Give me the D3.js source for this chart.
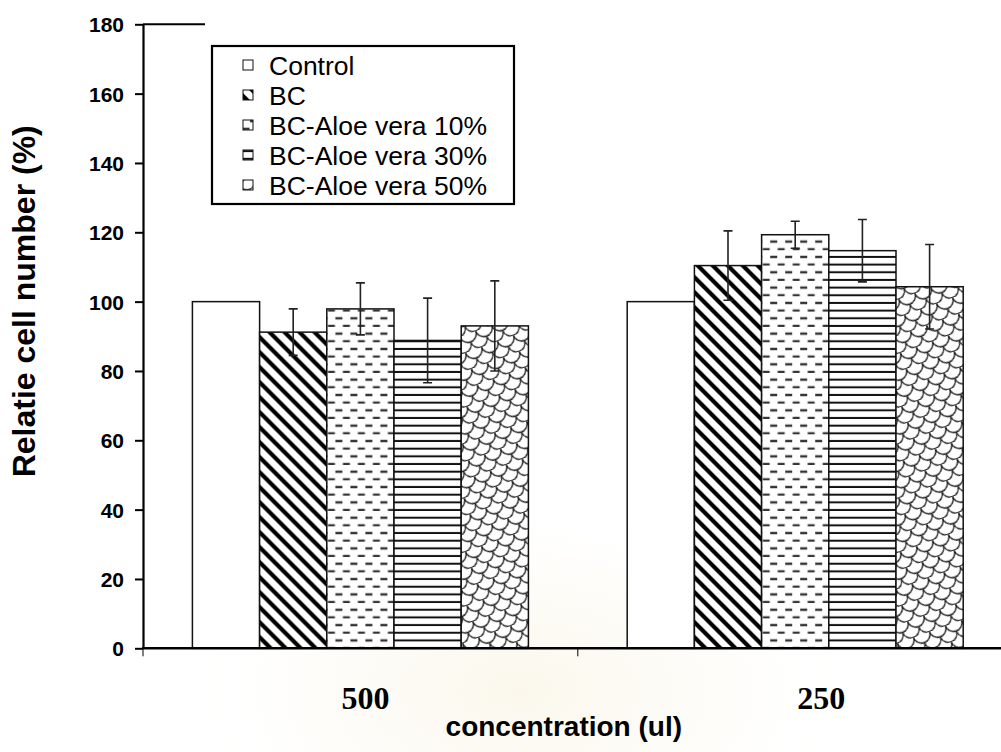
<!DOCTYPE html>
<html>
<head>
<meta charset="utf-8">
<script src="https://cdn.jsdelivr.net/npm/d3@7"></script>
<style>
  html, body { margin: 0; padding: 0; background: #fff; }
  svg { display: block; }
</style>
</head>
<body>
<svg id="chart" width="1001" height="752"></svg>
<script>
// Relative cell number by extract concentration
const categories = ["500", "250"];
const series = ["Control", "BC", "BC-Aloe vera 10%", "BC-Aloe vera 30%", "BC-Aloe vera 50%"];
const values500 = [100, 91.2, 97.9, 88.8, 93.0];
const values250 = [100, 110.4, 119.3, 114.7, 104.3];
const errors500 = [0, 6.7, 7.5, 12.2, 13.0];
const errors250 = [0, 10.0, 3.9, 9.0, 12.2];
const yTicks = [0, 20, 40, 60, 80, 100, 120, 140, 160, 180];
const patternIds = ["pat-none", "pat-diag", "pat-dash", "pat-hline", "pat-scale"];

const valuesByCat = { "500": values500, "250": values250 };
const errorsByCat = { "500": errors500, "250": errors250 };

const svg = d3.select("#chart");
const W = 1001, H = 752;
const plot = { left: 143, top: 24.3, bottom: 648.3 };
const bandStep = 434.8;
const groupWidth = 336;

// ---------- fill patterns ----------
const defs = svg.append("defs");

function pattern(id, w, h) {
  const p = defs.append("pattern")
    .attr("id", id)
    .attr("patternUnits", "userSpaceOnUse")
    .attr("width", w).attr("height", h);
  p.append("rect").attr("width", w).attr("height", h).attr("fill", "#fff");
  return p;
}

pattern("pat-none", 10, 10);

const diag = pattern("pat-diag", 15, 15);
diag.append("path")
  .attr("d", "M-2,-2 L17,17 M-9.5,5.5 L1.5,16.5 M5.5,-9.5 L16.5,1.5")
  .attr("stroke", "#000").attr("stroke-width", 4.2).attr("fill", "none");

const dash = pattern("pat-dash", 15, 15.34);
dash.append("path")
  .attr("d", "M0.5,3.8 H7.5 M8,11.5 H15")
  .attr("stroke", "#333").attr("stroke-width", 2.2).attr("fill", "none");

const hline = pattern("pat-hline", 10, 7.67);
hline.append("path")
  .attr("d", "M0,3.8 H10")
  .attr("stroke", "#111").attr("stroke-width", 2).attr("fill", "none");

// overlapping scales, tilted
const scale = pattern("pat-scale", 17, 17).attr("patternTransform", "rotate(-20)");
scale.append("path")
  .attr("d", "M0,0 A8.5,8.5 0 0 0 17,0 M-8.5,8.5 A8.5,8.5 0 0 0 8.5,8.5 M8.5,8.5 A8.5,8.5 0 0 0 25.5,8.5 M0,17 A8.5,8.5 0 0 0 17,17")
  .attr("stroke", "#222").attr("stroke-width", 1.3).attr("fill", "none");

// faint seal printed behind the lower part of the page
const glow = defs.append("radialGradient").attr("id", "seal-glow");
glow.append("stop").attr("offset", "0%").attr("stop-color", "#f3e7c4").attr("stop-opacity", 0.32);
glow.append("stop").attr("offset", "60%").attr("stop-color", "#f6eed6").attr("stop-opacity", 0.16);
glow.append("stop").attr("offset", "100%").attr("stop-color", "#ffffff").attr("stop-opacity", 0);
svg.append("ellipse")
  .attr("cx", 520).attr("cy", 690)
  .attr("rx", 330).attr("ry", 190)
  .attr("fill", "url(#seal-glow)");

// ---------- scales ----------
const y = d3.scaleLinear().domain([0, 180]).range([plot.bottom, plot.top]);
const x0 = d3.scaleBand().domain(categories)
  .range([plot.left, plot.left + bandStep * categories.length])
  .paddingInner(0).paddingOuter(0);
const x1 = d3.scaleBand().domain(series).range([0, groupWidth]).padding(0);
const groupOffset = (x0.bandwidth() - groupWidth) / 2;

// ---------- bars ----------
const groups = svg.append("g").selectAll("g")
  .data(categories)
  .join("g")
  .attr("transform", c => `translate(${x0(c) + groupOffset},0)`);

groups.selectAll("rect")
  .data(c => series.map((s, i) => ({ s, i, v: valuesByCat[c][i], e: errorsByCat[c][i] })))
  .join("rect")
  .attr("x", d => x1(d.s))
  .attr("y", d => y(d.v))
  .attr("width", x1.bandwidth())
  .attr("height", d => y(0) - y(d.v))
  .attr("fill", d => `url(#${patternIds[d.i]})`)
  .attr("stroke", "#111")
  .attr("stroke-width", 1.5);

// ---------- error bars ----------
const capHalf = 4.5;
groups.selectAll("path.err")
  .data(c => series.map((s, i) => ({ s, v: valuesByCat[c][i], e: errorsByCat[c][i] })).filter(d => d.e > 0))
  .join("path")
  .attr("class", "err")
  .attr("d", d => {
    const cx = x1(d.s) + x1.bandwidth() / 2;
    const t = y(d.v + d.e), b = y(d.v - d.e);
    return `M${cx},${t} V${b} M${cx - capHalf},${t} H${cx + capHalf} M${cx - capHalf},${b} H${cx + capHalf}`;
  })
  .attr("stroke", "#222").attr("stroke-width", 1.6).attr("fill", "none");

// ---------- y axis ----------
const yAxis = svg.append("g")
  .attr("transform", `translate(${plot.left},0)`)
  .call(d3.axisLeft(y).tickValues(yTicks).tickSize(8).tickSizeOuter(0).tickPadding(11));
yAxis.select(".domain").attr("stroke", "#000").attr("stroke-width", 2.2);
yAxis.selectAll(".tick line").attr("stroke", "#000").attr("stroke-width", 2);
yAxis.selectAll(".tick text")
  .attr("font-family", "Liberation Sans, Arial, sans-serif")
  .attr("font-weight", "bold")
  .attr("font-size", 21)
  .attr("fill", "#000")
  .attr("dy", "0.36em");

// short cap line at the top of the value axis
svg.append("line")
  .attr("x1", plot.left).attr("x2", plot.left + 62)
  .attr("y1", y(180)).attr("y2", y(180))
  .attr("stroke", "#000").attr("stroke-width", 2);

// ---------- x axis ----------
svg.append("line")
  .attr("x1", plot.left - 1).attr("x2", W)
  .attr("y1", y(0)).attr("y2", y(0))
  .attr("stroke", "#000").attr("stroke-width", 2.4);

const boundaries = categories.map(c => x0(c)).concat([x0(categories[categories.length - 1]) + x0.bandwidth()]);
svg.append("g").selectAll("line")
  .data(boundaries)
  .join("line")
  .attr("x1", d => d).attr("x2", d => d)
  .attr("y1", y(0)).attr("y2", y(0) + 8)
  .attr("stroke", "#000").attr("stroke-width", 1);

const labelShift = [5, 26];
svg.append("g").selectAll("text")
  .data(categories)
  .join("text")
  .attr("x", (c, i) => x0(c) + x0.bandwidth() / 2 + labelShift[i])
  .attr("y", 709)
  .attr("text-anchor", "middle")
  .attr("font-family", "Liberation Serif, Times New Roman, serif")
  .attr("font-weight", "bold")
  .attr("font-size", 32)
  .text(c => c);

svg.append("text")
  .attr("x", x0.range()[0] + (x0.range()[1] - x0.range()[0]) / 2 - 14)
  .attr("y", 736)
  .attr("text-anchor", "middle")
  .attr("font-family", "Liberation Sans, Arial, sans-serif")
  .attr("font-weight", "bold")
  .attr("font-size", 28)
  .text("concentration (ul)");

svg.append("text")
  .attr("transform", `translate(35,${(plot.top + plot.bottom) / 2 - 35}) rotate(-90)`)
  .attr("text-anchor", "middle")
  .attr("font-family", "Liberation Sans, Arial, sans-serif")
  .attr("font-weight", "bold")
  .attr("font-size", 32)
  .text("Relatie cell number (%)");

// ---------- legend ----------
const legend = svg.append("g").attr("transform", "translate(212,46)");
legend.append("rect")
  .attr("width", 302).attr("height", 158)
  .attr("fill", "#fff").attr("stroke", "#000").attr("stroke-width", 2.2);

const rowY = d3.scalePoint().domain(series).range([19, 139]);
const items = legend.selectAll("g.item")
  .data(series)
  .join("g")
  .attr("class", "item")
  .attr("transform", s => `translate(0,${rowY(s)})`);
items.append("rect")
  .attr("x", 31).attr("y", -5)
  .attr("width", 10).attr("height", 10)
  .attr("fill", (s, i) => `url(#${patternIds[i]})`)
  .attr("stroke", "#111").attr("stroke-width", 1);
items.append("text")
  .attr("x", 57).attr("y", 9.5)
  .attr("font-family", "Liberation Sans, Arial, sans-serif")
  .attr("font-size", 26.5)
  .attr("fill", "#000")
  .text(s => s);
</script>
</body>
</html>
